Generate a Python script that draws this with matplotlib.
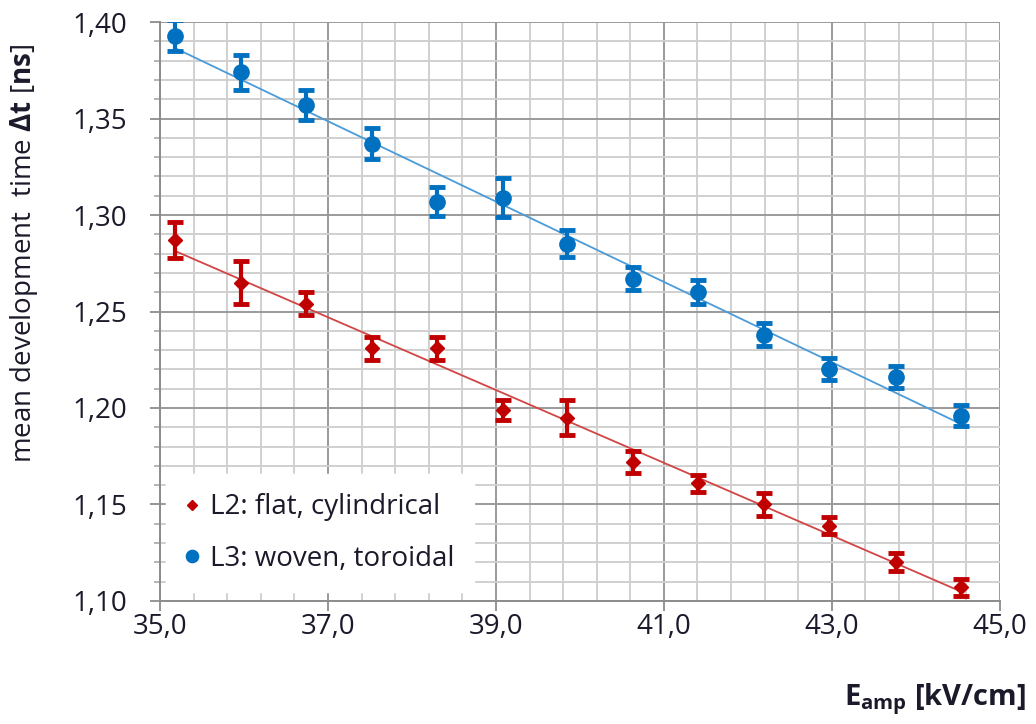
import matplotlib.pyplot as plt
import numpy as np
from matplotlib.ticker import MultipleLocator, FuncFormatter

plt.rcParams['font.family'] = ['Open Sans', 'DejaVu Sans']
plt.rcParams['mathtext.fontset'] = 'custom'
plt.rcParams['mathtext.rm'] = 'Open Sans'
plt.rcParams['mathtext.bf'] = 'Open Sans:bold'

# field values (kV/cm)
e_amp = [35.18, 35.96, 36.74, 37.52, 38.30, 39.08, 39.85,
         40.63, 41.41, 42.19, 42.97, 43.76, 44.54]

# L2: flat, cylindrical
l2_dt = [1.287, 1.265, 1.254, 1.231, 1.231, 1.199, 1.195,
         1.172, 1.161, 1.150, 1.139, 1.120, 1.107]
l2_err = [0.0095, 0.011, 0.006, 0.006, 0.006, 0.005, 0.009,
          0.0055, 0.0045, 0.006, 0.0045, 0.0047, 0.0044]

# L3: woven, toroidal
l3_dt = [1.393, 1.374, 1.357, 1.337, 1.307, 1.309, 1.285,
         1.267, 1.260, 1.238, 1.220, 1.216, 1.196]
l3_err = [0.008, 0.009, 0.008, 0.008, 0.0075, 0.010, 0.007,
          0.006, 0.0062, 0.006, 0.0057, 0.0057, 0.0055]

RED = '#C00000'
BLUE = '#0070C0'
TXT = '#1a1a2a'

fig = plt.figure(figsize=(10.36, 7.24), dpi=100)
ax = fig.add_axes([0.1545, 0.170, 0.8105, 0.7995])

ax.set_xlim(35, 45)
ax.set_ylim(1.10, 1.40)
ax.xaxis.set_major_locator(MultipleLocator(2, offset=1))
ax.xaxis.set_minor_locator(MultipleLocator(0.4, offset=0.2))
ax.yaxis.set_major_locator(MultipleLocator(0.05))
ax.yaxis.set_minor_locator(MultipleLocator(0.01))
ax.xaxis.set_major_formatter(FuncFormatter(lambda v, p: ('%.1f' % v).replace('.', ',')))
ax.yaxis.set_major_formatter(FuncFormatter(lambda v, p: ('%.2f' % v).replace('.', ',')))

ax.grid(which='major', color='#9a9a9a', lw=1.4)
ax.grid(which='minor', color='#d0d0d0', lw=1.4)
ax.set_axisbelow(True)
for s in ['top', 'right']:
    ax.spines[s].set_visible(False)
for s in ['left', 'bottom']:
    ax.spines[s].set_color('#8c8c8c')
    ax.spines[s].set_linewidth(1.4)

ax.tick_params(axis='both', which='major', direction='out', length=7, width=1.3,
               color='#8c8c8c', labelsize=20, labelcolor=TXT)
ax.tick_params(axis='y', which='major', pad=17)
ax.tick_params(axis='x', which='major', pad=2)
ax.tick_params(axis='y', which='minor', direction='out', length=4, width=1.1, color='#a0a0a0')
ax.tick_params(axis='x', which='minor', length=0)

x = np.array(e_amp)
# linear trend lines
for dt, col in [(l2_dt, '#D24545'), (l3_dt, '#4A9BD8')]:
    k, b = np.polyfit(x, dt, 1)
    xx = np.array([x[0], x[-1]])
    ax.plot(xx, k * xx + b, color=col, lw=1.3, zorder=2)

ax.errorbar(e_amp, l2_dt, yerr=l2_err, fmt='D', color=RED, ms=7, elinewidth=3,
            capsize=6, capthick=3.5, zorder=3, label='L2: flat, cylindrical')
ax.errorbar(e_amp, l3_dt, yerr=l3_err, fmt='o', color=BLUE, ms=11, elinewidth=3,
            capsize=6, capthick=3.5, zorder=3, label='L3: woven, toroidal')

h, l = ax.get_legend_handles_labels()
h = [hh[0] for hh in h]
leg = ax.legend(h, l, loc='lower left', bbox_to_anchor=(0.0, 0.005), fontsize=20,
                frameon=True, fancybox=False, framealpha=1, edgecolor='white',
                handlelength=0.5, handletextpad=0.4, labelspacing=0.85,
                borderpad=0.7, borderaxespad=0.2, markerscale=0.8)
for t in leg.get_texts():
    t.set_color(TXT)

ax.set_ylabel(r'mean development  time $\mathbf{\Delta t}$ [$\mathbf{ns}$]',
              fontsize=20, color=TXT)
ax.yaxis.set_label_coords(-0.143, 0.6)

fig.text(0.99, 0.01, r'$\mathbf{E}_{\mathbf{amp}}$ [kV/cm]', fontsize=21,
         fontweight='bold', ha='right', va='bottom', color=TXT)

fig.savefig('out.png', dpi=100)
